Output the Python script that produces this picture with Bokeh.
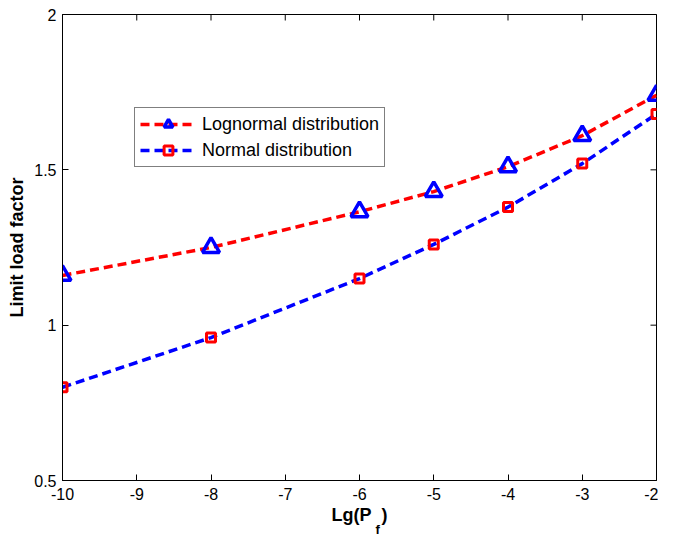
from bokeh.plotting import figure
from bokeh.models import FixedTicker, Legend, LegendItem, Range1d, Title
from bokeh.embed import file_html
from bokeh.resources import INLINE

# ---- data ----
lg_pf = [-10, -8, -6, -5, -4, -3, -2]
lognormal = [1.16, 1.25, 1.365, 1.43, 1.51, 1.61, 1.74]
normal = [0.80, 0.96, 1.15, 1.26, 1.38, 1.52, 1.68]

x_ticks = [-10, -9, -8, -7, -6, -5, -4, -3, -2]
x_tick_labels = ["-10", "-9", "-8", "-7", "-6", "-5", "-4", "-3", "-2"]
y_ticks = [0.5, 1, 1.5, 2]
y_tick_labels = ["0.5", "1", "1.5", "2"]

FONT = "Liberation Sans"
X_MIN, X_MAX = x_ticks[0], x_ticks[-1]
Y_MIN, Y_MAX = y_ticks[0], y_ticks[-1]

p = figure(width=658, height=536, output_backend="svg", toolbar_location=None,
           x_range=Range1d(X_MIN, X_MAX), y_range=Range1d(Y_MIN, Y_MAX),
           min_border_left=62, min_border_right=2, min_border_top=14, min_border_bottom=56)
p.background_fill_color = "white"
p.border_fill_color = "white"
p.outline_line_color = "black"
p.outline_line_width = 1
p.grid.visible = False

# axes
p.xaxis.ticker = FixedTicker(ticks=x_ticks)
p.xaxis.major_label_overrides = {t: s for t, s in zip(x_ticks, x_tick_labels)}
p.yaxis.ticker = FixedTicker(ticks=y_ticks)
p.yaxis.major_label_overrides = {t: s for t, s in zip(y_ticks, y_tick_labels)}

for ax in p.xaxis + p.yaxis:
    ax.axis_line_color = "black"
    ax.major_tick_line_color = "black"
    ax.major_tick_in = 6
    ax.major_tick_out = 0
    ax.minor_tick_line_color = None
    ax.major_label_text_font = FONT
    ax.major_label_text_font_size = "16px"
    ax.major_label_text_color = "black"
    ax.axis_label_text_font = FONT
    ax.axis_label_text_font_style = "bold"
    ax.axis_label_text_font_size = "18px"
    ax.axis_label_text_color = "black"

p.xaxis.major_label_standoff = 7
p.yaxis.major_label_standoff = 6
p.yaxis.axis_label = "Limit load factor"
p.yaxis.axis_label_standoff = 4
p.xaxis.axis_label = "Lg(P\u00a0\u00a0)"
p.xaxis.axis_label_standoff = 2

# subscript "f" of the x-axis label
sub = Title(text="f", align="left", vertical_align="top", offset=313, standoff=-12,
            text_font=FONT, text_font_style="bold", text_font_size="13px",
            text_color="black")
p.add_layout(sub, "below")

# inward ticks on the top and right edges (half of each dash is clipped by the frame)
p.scatter(x_ticks, [Y_MAX] * len(x_ticks), marker="dash", angle=1.5707963, size=12,
          line_color="black", line_width=1)
p.scatter([X_MAX] * len(y_ticks), y_ticks, marker="dash", size=12,
          line_color="black", line_width=1)

# series
l1 = p.line(lg_pf, lognormal, line_color="red", line_width=3.5, line_dash="9 5")
s1 = p.scatter(lg_pf, lognormal, marker="triangle", size=17, line_color="blue",
               line_width=3.5, fill_color=None)
l2 = p.line(lg_pf, normal, line_color="blue", line_width=3.5, line_dash="9 5")
s2 = p.scatter(lg_pf, normal, marker="square", size=9, line_color="red",
               line_width=3, fill_color=None)

legend = Legend(items=[LegendItem(label="Lognormal distribution", renderers=[l1, s1]),
                       LegendItem(label="Normal distribution", renderers=[l2, s2])],
                location=(72, 313))
legend.border_line_color = "black"
legend.border_line_width = 1
legend.background_fill_color = "white"
legend.background_fill_alpha = 1
legend.label_text_font = FONT
legend.label_text_font_size = "18px"
legend.label_text_color = "black"
legend.glyph_width = 56
legend.glyph_height = 22
legend.label_height = 22
legend.label_standoff = 6
legend.spacing = 4
legend.padding = 5
legend.margin = 0
p.add_layout(legend, "center")

open("out.html", "w").write(file_html(p, INLINE))
